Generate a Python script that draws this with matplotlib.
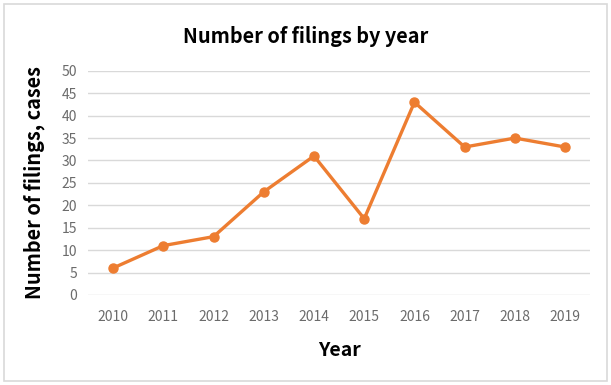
import matplotlib.pyplot as plt
from matplotlib.patches import Rectangle

years = ["2010", "2011", "2012", "2013", "2014", "2015", "2016", "2017", "2018", "2019"]
filings = [6, 11, 13, 23, 31, 17, 43, 33, 35, 33]
y_ticks = [0, 5, 10, 15, 20, 25, 30, 35, 40, 45, 50]

plt.rcParams["font.family"] = ["Noto Sans CJK KR", "DejaVu Sans"]

fig = plt.figure(figsize=(6.11, 3.85), dpi=100)
ax = fig.add_axes([0.144, 0.234, 0.822, 0.582])

# borde exterior gris claro
fig.patches.append(Rectangle((0.007, 0.01), 0.986, 0.98, transform=fig.transFigure,
                             fill=False, edgecolor="#D9D9D9", linewidth=1.2))

x = range(len(years))
ax.plot(x, filings, color="#ED7D31", linewidth=2.4, marker="o", markersize=6.5)

ax.set_xlim(-0.5, len(years) - 0.5)
ax.set_ylim(0, 50)
ax.set_yticks(y_ticks)
ax.set_xticks(list(x))
ax.set_xticklabels(years)
ax.grid(axis="y", color="#D9D9D9", linewidth=1.0)
ax.set_axisbelow(True)
for spine in ax.spines.values():
    spine.set_visible(False)
ax.tick_params(length=0, colors="#6B6B6B", labelsize=10)
ax.tick_params(axis="x", pad=11)
ax.tick_params(axis="y", pad=8)

fig.text(0.5, 0.905, "Number of filings by year", ha="center", va="center",
         fontsize=14.3, fontweight="bold", color="black")
ax.set_ylabel("Number of filings, cases", fontsize=14.3, fontweight="bold", labelpad=12)
ax.set_xlabel("Year", fontsize=14, fontweight="bold", labelpad=12)

fig.savefig("out.png", dpi=100, facecolor="white")
